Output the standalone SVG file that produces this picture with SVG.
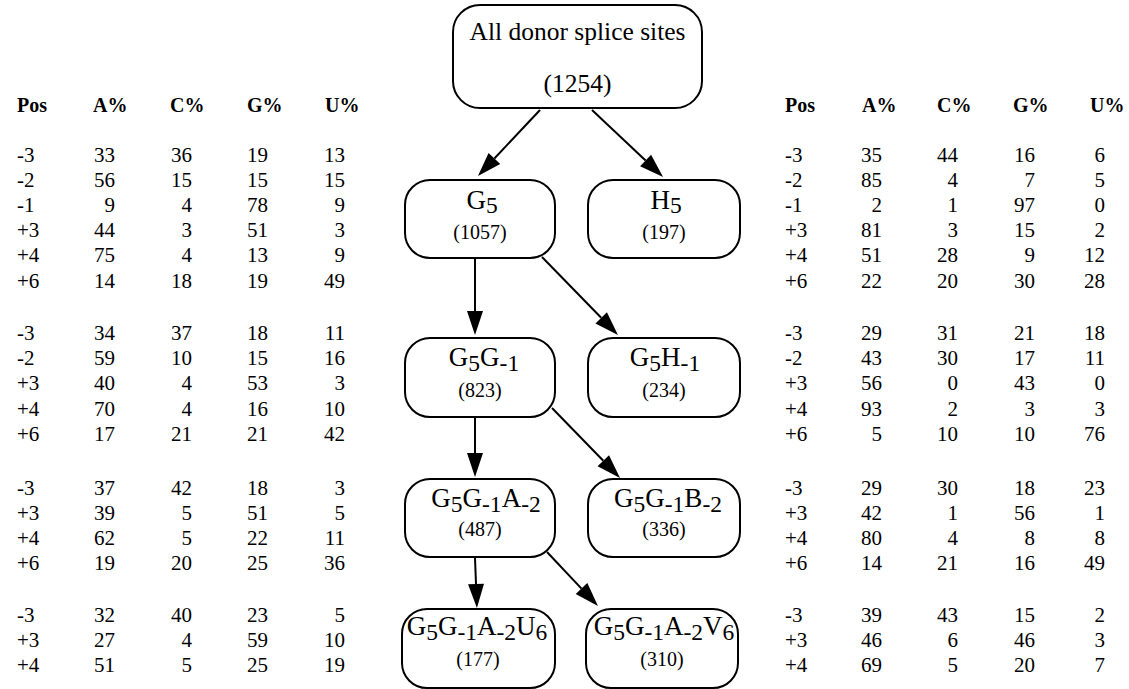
<svg xmlns="http://www.w3.org/2000/svg" width="1129" height="689" viewBox="0 0 1129 689">
<style>
text{font-family:"Liberation Serif","Times New Roman",serif;fill:#000}
.h{font-size:20px;font-weight:bold}
.p{font-size:21px}
.n{font-size:21px;text-anchor:end}
.box{fill:#fff;stroke:#000;stroke-width:2}
.root{font-size:25.5px;text-anchor:middle}
.lbl{font-size:27px;text-anchor:middle}
.sub{font-size:23.5px}
.cnt{font-size:20px;text-anchor:middle}
.edge{stroke:#000;stroke-width:2;fill:none;marker-end:url(#ah)}
</style>
<defs>
<marker id="ah" markerUnits="userSpaceOnUse" markerWidth="25" markerHeight="18" refX="0" refY="8.5" orient="auto" overflow="visible">
<path d="M0,0.5 L24,8.5 L0,16.5 z" fill="#000"/>
</marker>
</defs>
<rect width="1129" height="689" fill="#fff"/>

<g id="left-table">
<text class="h" x="17" y="112">Pos</text><text class="h" x="93" y="112">A%</text><text class="h" x="170" y="112">C%</text><text class="h" x="247" y="112">G%</text><text class="h" x="325" y="112">U%</text>
<text class="p" x="17" y="161.5">-3</text><text class="n" y="161.5"><tspan x="115">33</tspan><tspan x="192">36</tspan><tspan x="268">19</tspan><tspan x="345">13</tspan></text>
<text class="p" x="17" y="186.7">-2</text><text class="n" y="186.7"><tspan x="115">56</tspan><tspan x="192">15</tspan><tspan x="268">15</tspan><tspan x="345">15</tspan></text>
<text class="p" x="17" y="211.9">-1</text><text class="n" y="211.9"><tspan x="115">9</tspan><tspan x="192">4</tspan><tspan x="268">78</tspan><tspan x="345">9</tspan></text>
<text class="p" x="17" y="237.1">+3</text><text class="n" y="237.1"><tspan x="115">44</tspan><tspan x="192">3</tspan><tspan x="268">51</tspan><tspan x="345">3</tspan></text>
<text class="p" x="17" y="262.3">+4</text><text class="n" y="262.3"><tspan x="115">75</tspan><tspan x="192">4</tspan><tspan x="268">13</tspan><tspan x="345">9</tspan></text>
<text class="p" x="17" y="287.5">+6</text><text class="n" y="287.5"><tspan x="115">14</tspan><tspan x="192">18</tspan><tspan x="268">19</tspan><tspan x="345">49</tspan></text>

<text class="p" x="17" y="340">-3</text><text class="n" y="340"><tspan x="115">34</tspan><tspan x="192">37</tspan><tspan x="268">18</tspan><tspan x="345">11</tspan></text>
<text class="p" x="17" y="365.2">-2</text><text class="n" y="365.2"><tspan x="115">59</tspan><tspan x="192">10</tspan><tspan x="268">15</tspan><tspan x="345">16</tspan></text>
<text class="p" x="17" y="390.4">+3</text><text class="n" y="390.4"><tspan x="115">40</tspan><tspan x="192">4</tspan><tspan x="268">53</tspan><tspan x="345">3</tspan></text>
<text class="p" x="17" y="415.6">+4</text><text class="n" y="415.6"><tspan x="115">70</tspan><tspan x="192">4</tspan><tspan x="268">16</tspan><tspan x="345">10</tspan></text>
<text class="p" x="17" y="440.8">+6</text><text class="n" y="440.8"><tspan x="115">17</tspan><tspan x="192">21</tspan><tspan x="268">21</tspan><tspan x="345">42</tspan></text>

<text class="p" x="17" y="494.5">-3</text><text class="n" y="494.5"><tspan x="115">37</tspan><tspan x="192">42</tspan><tspan x="268">18</tspan><tspan x="345">3</tspan></text>
<text class="p" x="17" y="519.7">+3</text><text class="n" y="519.7"><tspan x="115">39</tspan><tspan x="192">5</tspan><tspan x="268">51</tspan><tspan x="345">5</tspan></text>
<text class="p" x="17" y="544.9">+4</text><text class="n" y="544.9"><tspan x="115">62</tspan><tspan x="192">5</tspan><tspan x="268">22</tspan><tspan x="345">11</tspan></text>
<text class="p" x="17" y="570.1">+6</text><text class="n" y="570.1"><tspan x="115">19</tspan><tspan x="192">20</tspan><tspan x="268">25</tspan><tspan x="345">36</tspan></text>

<text class="p" x="17" y="621.5">-3</text><text class="n" y="621.5"><tspan x="115">32</tspan><tspan x="192">40</tspan><tspan x="268">23</tspan><tspan x="345">5</tspan></text>
<text class="p" x="17" y="646.7">+3</text><text class="n" y="646.7"><tspan x="115">27</tspan><tspan x="192">4</tspan><tspan x="268">59</tspan><tspan x="345">10</tspan></text>
<text class="p" x="17" y="671.9">+4</text><text class="n" y="671.9"><tspan x="115">51</tspan><tspan x="192">5</tspan><tspan x="268">25</tspan><tspan x="345">19</tspan></text>
</g>

<g id="right-table">
<text class="h" x="785" y="112">Pos</text><text class="h" x="862" y="112">A%</text><text class="h" x="937" y="112">C%</text><text class="h" x="1013" y="112">G%</text><text class="h" x="1090" y="112">U%</text>
<text class="p" x="785" y="161.5">-3</text><text class="n" y="161.5"><tspan x="882">35</tspan><tspan x="958">44</tspan><tspan x="1035">16</tspan><tspan x="1105">6</tspan></text>
<text class="p" x="785" y="186.7">-2</text><text class="n" y="186.7"><tspan x="882">85</tspan><tspan x="958">4</tspan><tspan x="1035">7</tspan><tspan x="1105">5</tspan></text>
<text class="p" x="785" y="211.9">-1</text><text class="n" y="211.9"><tspan x="882">2</tspan><tspan x="958">1</tspan><tspan x="1035">97</tspan><tspan x="1105">0</tspan></text>
<text class="p" x="785" y="237.1">+3</text><text class="n" y="237.1"><tspan x="882">81</tspan><tspan x="958">3</tspan><tspan x="1035">15</tspan><tspan x="1105">2</tspan></text>
<text class="p" x="785" y="262.3">+4</text><text class="n" y="262.3"><tspan x="882">51</tspan><tspan x="958">28</tspan><tspan x="1035">9</tspan><tspan x="1105">12</tspan></text>
<text class="p" x="785" y="287.5">+6</text><text class="n" y="287.5"><tspan x="882">22</tspan><tspan x="958">20</tspan><tspan x="1035">30</tspan><tspan x="1105">28</tspan></text>

<text class="p" x="785" y="340">-3</text><text class="n" y="340"><tspan x="882">29</tspan><tspan x="958">31</tspan><tspan x="1035">21</tspan><tspan x="1105">18</tspan></text>
<text class="p" x="785" y="365.2">-2</text><text class="n" y="365.2"><tspan x="882">43</tspan><tspan x="958">30</tspan><tspan x="1035">17</tspan><tspan x="1105">11</tspan></text>
<text class="p" x="785" y="390.4">+3</text><text class="n" y="390.4"><tspan x="882">56</tspan><tspan x="958">0</tspan><tspan x="1035">43</tspan><tspan x="1105">0</tspan></text>
<text class="p" x="785" y="415.6">+4</text><text class="n" y="415.6"><tspan x="882">93</tspan><tspan x="958">2</tspan><tspan x="1035">3</tspan><tspan x="1105">3</tspan></text>
<text class="p" x="785" y="440.8">+6</text><text class="n" y="440.8"><tspan x="882">5</tspan><tspan x="958">10</tspan><tspan x="1035">10</tspan><tspan x="1105">76</tspan></text>

<text class="p" x="785" y="494.5">-3</text><text class="n" y="494.5"><tspan x="882">29</tspan><tspan x="958">30</tspan><tspan x="1035">18</tspan><tspan x="1105">23</tspan></text>
<text class="p" x="785" y="519.7">+3</text><text class="n" y="519.7"><tspan x="882">42</tspan><tspan x="958">1</tspan><tspan x="1035">56</tspan><tspan x="1105">1</tspan></text>
<text class="p" x="785" y="544.9">+4</text><text class="n" y="544.9"><tspan x="882">80</tspan><tspan x="958">4</tspan><tspan x="1035">8</tspan><tspan x="1105">8</tspan></text>
<text class="p" x="785" y="570.1">+6</text><text class="n" y="570.1"><tspan x="882">14</tspan><tspan x="958">21</tspan><tspan x="1035">16</tspan><tspan x="1105">49</tspan></text>

<text class="p" x="785" y="621.5">-3</text><text class="n" y="621.5"><tspan x="882">39</tspan><tspan x="958">43</tspan><tspan x="1035">15</tspan><tspan x="1105">2</tspan></text>
<text class="p" x="785" y="646.7">+3</text><text class="n" y="646.7"><tspan x="882">46</tspan><tspan x="958">6</tspan><tspan x="1035">46</tspan><tspan x="1105">3</tspan></text>
<text class="p" x="785" y="671.9">+4</text><text class="n" y="671.9"><tspan x="882">69</tspan><tspan x="958">5</tspan><tspan x="1035">20</tspan><tspan x="1105">7</tspan></text>
</g>

<g id="connectors">
<path class="edge" d="M540,110 L494.4,158.5"/>
<path class="edge" d="M592,110 L645.6,160.5"/>
<path class="edge" d="M475,259 L475,311"/>
<path class="edge" d="M542,257 L601.2,317.8"/>
<path class="edge" d="M475,418 L475,453"/>
<path class="edge" d="M552,408 L603.3,460.8"/>
<path class="edge" d="M475,558 L476,584"/>
<path class="edge" d="M547,552 L581.5,588.6"/>
</g>

<g id="node-root">
<rect class="box" x="453" y="5" width="249" height="103" rx="27"/>
<text class="root" x="577.5" y="40">All donor splice sites</text>
<text class="root" x="577.5" y="92">(1254)</text>
</g>

<g id="node-G5">
<rect class="box" x="405" y="180" width="150" height="78" rx="25"/>
<text class="lbl" x="482" y="209">G<tspan class="sub" dy="4">5</tspan></text>
<text class="cnt" x="480" y="239">(1057)</text>
</g>

<g id="node-H5">
<rect class="box" x="588" y="180" width="152" height="78" rx="25"/>
<text class="lbl" x="666" y="209">H<tspan class="sub" dy="4">5</tspan></text>
<text class="cnt" x="664" y="239">(197)</text>
</g>

<g id="node-G5G-1">
<rect class="box" x="405" y="338" width="150" height="79" rx="25"/>
<text class="lbl" x="484" y="366">G<tspan class="sub" dy="5">5</tspan><tspan dy="-5">G</tspan><tspan class="sub" dy="5">-1</tspan></text>
<text class="cnt" x="480" y="397">(823)</text>
</g>

<g id="node-G5H-1">
<rect class="box" x="588" y="338" width="152" height="79" rx="25"/>
<text class="lbl" x="665" y="366">G<tspan class="sub" dy="5">5</tspan><tspan dy="-5">H</tspan><tspan class="sub" dy="5">-1</tspan></text>
<text class="cnt" x="664" y="397">(234)</text>
</g>

<g id="node-G5G-1A-2">
<rect class="box" x="405" y="479" width="150" height="78" rx="25"/>
<text class="lbl" x="486" y="507">G<tspan class="sub" dy="5">5</tspan><tspan dy="-5">G</tspan><tspan class="sub" dy="5">-1</tspan><tspan dy="-5">A</tspan><tspan class="sub" dy="5">-2</tspan></text>
<text class="cnt" x="480" y="536">(487)</text>
</g>

<g id="node-G5G-1B-2">
<rect class="box" x="588" y="479" width="152" height="78" rx="25"/>
<text class="lbl" x="668" y="507">G<tspan class="sub" dy="5">5</tspan><tspan dy="-5">G</tspan><tspan class="sub" dy="5">-1</tspan><tspan dy="-5">B</tspan><tspan class="sub" dy="5">-2</tspan></text>
<text class="cnt" x="664" y="536">(336)</text>
</g>

<g id="node-G5G-1A-2U6">
<rect class="box" x="402" y="609" width="153" height="79" rx="25"/>
<text class="lbl" x="477" y="635">G<tspan class="sub" dy="5">5</tspan><tspan dy="-5">G</tspan><tspan class="sub" dy="5">-1</tspan><tspan dy="-5">A</tspan><tspan class="sub" dy="5">-2</tspan><tspan dy="-5">U</tspan><tspan class="sub" dy="5">6</tspan></text>
<text class="cnt" x="478" y="666">(177)</text>
</g>

<g id="node-G5G-1A-2V6">
<rect class="box" x="586" y="609" width="152" height="79" rx="25"/>
<text class="lbl" x="664" y="635">G<tspan class="sub" dy="5">5</tspan><tspan dy="-5">G</tspan><tspan class="sub" dy="5">-1</tspan><tspan dy="-5">A</tspan><tspan class="sub" dy="5">-2</tspan><tspan dy="-5">V</tspan><tspan class="sub" dy="5">6</tspan></text>
<text class="cnt" x="662" y="666">(310)</text>
</g>
</svg>
